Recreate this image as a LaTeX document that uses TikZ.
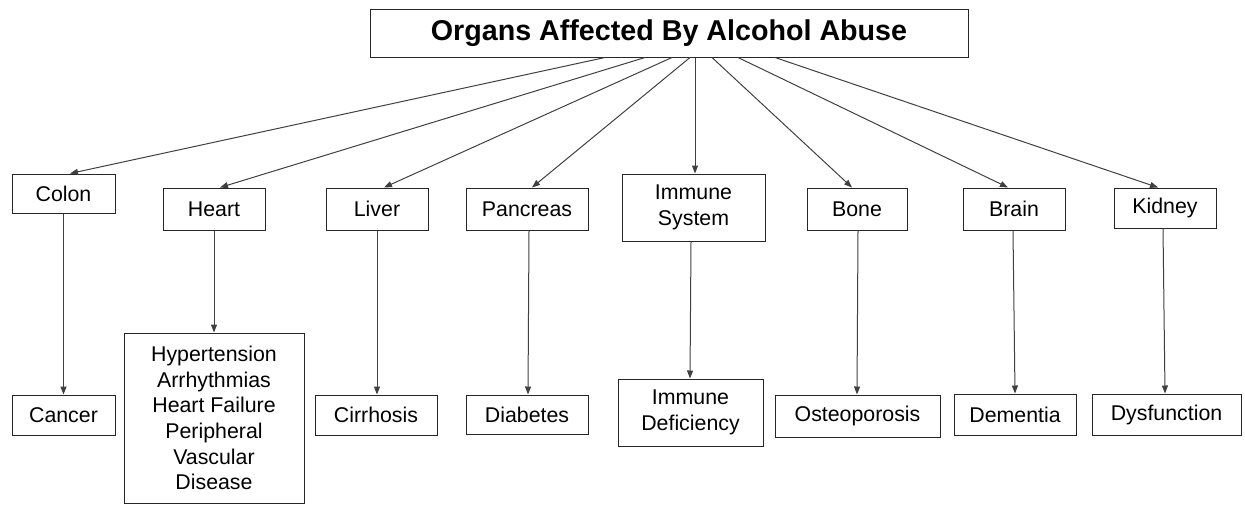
\documentclass[tikz,border=0pt]{standalone}
\usepackage{fontspec}
\setmainfont{Liberation Sans}
\usepackage{tikz}
\usetikzlibrary{arrows.meta,calc,positioning}

\tikzset{
  organbox/.style={draw=black!85, line width=0.75pt, fill=white, align=center, inner sep=0pt,
    font=\fontsize{16}{19.2}\selectfont},
  titlebox/.style={organbox, font=\fontsize{21.5}{26}\selectfont\bfseries},
  link/.style={draw=black!75, line width=0.75pt, -{Triangle[length=6pt,width=4.5pt]}}
}

\begin{document}
\begin{tikzpicture}[x=0.75pt,y=0.75pt,yscale=-1,xscale=1]
\useasboundingbox (0,0) rectangle (1245,504);

%Title
\node[titlebox, minimum width=448.5pt, minimum height=36pt] (title) at (669,33) {Organs Affected By Alcohol Abuse};

%Organs
\node[organbox, minimum width=77.25pt, minimum height=29.25pt] (colon) at (63.5,193.5) {Colon};
\node[organbox, minimum width=76.5pt, minimum height=31.5pt] (heart) at (214,209) {Heart};
\node[organbox, minimum width=76.5pt, minimum height=31.5pt] (liver) at (377,209) {Liver};
\node[organbox, minimum width=91.5pt, minimum height=31.5pt] (pancreas) at (527,209) {Pancreas};
\node[organbox, minimum width=107.25pt, minimum height=50.25pt] (immune) at (693.5,207.5) {Immune\\System};
\node[organbox, minimum width=75pt, minimum height=31.5pt] (bone) at (857,209) {Bone};
\node[organbox, minimum width=76.5pt, minimum height=31.5pt] (brain) at (1014,209) {Brain};
\node[organbox, minimum width=76.5pt, minimum height=30pt] (kidney) at (1165,208) {Kidney};

%Effects
\node[organbox, minimum width=77.25pt, minimum height=30pt] (cancer) at (63.5,415) {Cancer};
\node[organbox, minimum width=135pt, minimum height=127.5pt] (heartfx) at (214,418) {Hypertension\\Arrhythmias\\Heart Failure\\Peripheral\\Vascular\\Disease};
\node[organbox, minimum width=91.5pt, minimum height=30pt] (cirrhosis) at (376,415) {Cirrhosis};
\node[organbox, minimum width=91.5pt, minimum height=29.25pt] (diabetes) at (527,414.5) {Diabetes};
\node[organbox, minimum width=108.75pt, minimum height=50.25pt] (deficiency) at (690.5,412.5) {Immune\\Deficiency};
\node[organbox, minimum width=123.75pt, minimum height=31.5pt] (osteo) at (857.5,416) {Osteoporosis};
\node[organbox, minimum width=91.5pt, minimum height=30.75pt] (dementia) at (1015,414.5) {Dementia};
\node[organbox, minimum width=111.75pt, minimum height=30.75pt] (dysfunction) at (1166.5,414.5) {Dysfunction};

%Title to organs
\draw[link] ($(title.south)+(-64,0)$) -- ($(colon.north)+(6.5,0)$);
\draw[link] ($(title.south)+(-24,0)$) -- ($(heart.north)+(6,0)$);
\draw[link] ($(title.south)+(3,0)$) -- ($(liver.north)+(7,0)$);
\draw[link] ($(title.south)+(21,0)$) -- ($(pancreas.north)+(5,0)$);
\draw[link] ($(title.south)+(26,0)$) -- ($(immune.north)+(1.5,0)$);
\draw[link] ($(title.south)+(43,0)$) -- ($(bone.north)+(-5,0)$);
\draw[link] ($(title.south)+(69,0)$) -- ($(brain.north)+(-6,0)$);
\draw[link] ($(title.south)+(106,0)$) -- ($(kidney.north)+(-7,0)$);

%Organs to effects
\draw[link] (colon.south) -- (colon.south |- cancer.north);
\draw[link] (heart.south) -- (heart.south |- heartfx.north);
\draw[link] (liver.south) -- (liver.south |- cirrhosis.north);
\draw[link] ($(pancreas.south)+(2,0)$) -- ($(pancreas.south |- diabetes.north)+(1,0)$);
\draw[link] ($(immune.south)+(-2.5,0)$) -- ($(immune.south |- deficiency.north)+(-3.5,0)$);
\draw[link] ($(bone.south)+(1,0)$) -- ($(bone.south |- osteo.north)$);
\draw[link] ($(brain.south)+(-1,0)$) -- ($(brain.south |- dementia.north)+(1,0)$);
\draw[link] ($(kidney.south)+(-2,0)$) -- ($(kidney.south |- dysfunction.north)$);

\end{tikzpicture}
\end{document}
